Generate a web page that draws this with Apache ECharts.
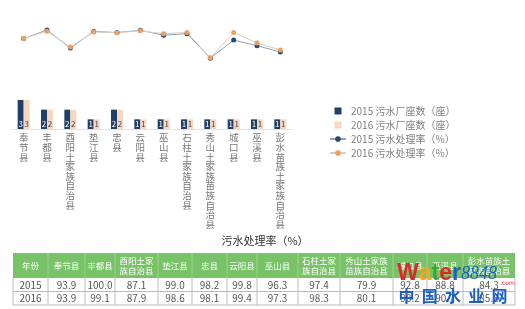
<!DOCTYPE html>
<html>
<head>
<meta charset="utf-8">
<script src="https://cdn.jsdelivr.net/npm/echarts@6/dist/echarts.min.js"></script>
<style>
  html, body { margin: 0; padding: 0; background: #fff; }
  #main { width: 525px; height: 309px; }
</style>
</head>
<body>
<div id="main"></div>
<script>
// 数据
var categories = ['奉节县', '丰都县', '酉阳土家族自治县', '垫江县', '忠县', '云阳县', '巫山县',
  '石柱土家族自治县', '秀山土家族苗族自治县', '城口县', '巫溪县', '彭水苗族土家族自治县'];
var plants2015 = [3, 2, 2, 1, 2, 1, 1, 1, 1, 1, 1, 1];
var plants2016 = [3, 2, 2, 1, 2, 1, 1, 1, 1, 1, 1, 1];
var rate2015 = [93.9, 100.0, 87.1, 99.0, 98.2, 99.8, 96.3, 97.4, 79.9, 92.8, 88.8, 84.3];
var rate2016 = [93.9, 99.1, 87.9, 98.6, 98.1, 99.4, 97.3, 98.3, 80.1, 98.2, 90.7, 85.8];
var tableHeaders = ['年份', '奉节县', '丰都县', '酉阳土家\n族自治县', '垫江县', '忠县', '云阳县', '巫山县',
  '石柱土家\n族自治县', '秀山土家族\n苗族自治县', '城口县', '巫溪县', '彭水苗族土\n家族自治县'];
var years = ['2015', '2016'];

var colWidths = [35, 37, 30, 43, 34, 35, 30, 41, 42, 53, 34, 36, 52];

var FONT = '"Noto Sans CJK SC", "Noto Sans", sans-serif';

// 表格用 graphic 画
function buildTable() {
  var els = [];
  var x0 = 13, y0 = 253, hh = 25, rh = 13.5;
  var totalW = colWidths.reduce(function (a, b) { return a + b; }, 0);
  els.push({ type: 'rect', shape: { x: x0, y: y0, width: totalW, height: hh }, style: { fill: '#78c267' } });
  var rows = [rate2015, rate2016];
  var x = x0;
  for (var c = 0; c < colWidths.length; c++) {
    var w = colWidths[c];
    els.push({ type: 'text', x: x + w / 2, y: y0 + hh / 2,
      style: { text: tableHeaders[c], fill: '#fff', font: '8.5px ' + FONT, align: 'center', verticalAlign: 'middle', lineHeight: 10 } });
    for (var r = 0; r < rows.length; r++) {
      var txt = c === 0 ? years[r] : rows[r][c - 1].toFixed(1);
      els.push({ type: 'text', x: x + w / 2, y: y0 + hh + rh * r + rh / 2,
        style: { text: txt, fill: '#555', font: '10px ' + FONT, align: 'center', verticalAlign: 'middle' } });
    }
    if (c > 0) {
      els.push({ type: 'line', shape: { x1: x, y1: y0, x2: x, y2: y0 + hh }, style: { stroke: '#9fd292', lineWidth: 1 } });
      els.push({ type: 'line', shape: { x1: x, y1: y0 + hh, x2: x, y2: y0 + hh + rh * 2 }, style: { stroke: '#bbb', lineWidth: 1 } });
    }
    x += w;
  }
  // 横线和外框
  [y0 + hh + rh, y0 + hh + rh * 2].forEach(function (yy) {
    els.push({ type: 'line', shape: { x1: x0, y1: yy, x2: x0 + totalW, y2: yy }, style: { stroke: '#bbb', lineWidth: 1 } });
  });
  els.push({ type: 'line', shape: { x1: x0, y1: y0 + hh, x2: x0, y2: y0 + hh + rh * 2 }, style: { stroke: '#bbb', lineWidth: 1 } });
  els.push({ type: 'line', shape: { x1: x0 + totalW, y1: y0 + hh, x2: x0 + totalW, y2: y0 + hh + rh * 2 }, style: { stroke: '#bbb', lineWidth: 1 } });
  return els;
}

var graphics = buildTable();
graphics.push({ type: 'text', x: 265, y: 241,
  style: { text: '污水处理率（%）', fill: '#333', font: '11px ' + FONT, align: 'center', verticalAlign: 'middle' } });
// 水印
graphics.push({ type: 'text', x: 397, y: 274, style: {
  text: '{r|W}{o|a}{g|t}{r|e}{b|r}{n|8848}', verticalAlign: 'middle',
  rich: {
    r: { fill: '#e2262b', font: 'bold 23px "Liberation Sans"' },
    o: { fill: '#f5a623', font: 'bold 23px "Liberation Sans"' },
    g: { fill: '#3aa537', font: 'bold 23px "Liberation Sans"' },
    b: { fill: '#1d5fc4', font: 'bold 23px "Liberation Sans"' },
    n: { fill: '#1d5fc4', font: 'italic 18px "Liberation Serif"' }
  } } });
graphics.push({ type: 'text', x: 500, y: 283, style: { text: '.com', fill: '#e2262b', font: '6px "DejaVu Sans"', verticalAlign: 'middle' } });
graphics.push({ type: 'text', x: 453, y: 296, style: { text: '中  国  水  业  网', fill: '#1d5fc4', font: 'bold 16px ' + FONT, align: 'center', verticalAlign: 'middle' } });

var chart = echarts.init(document.getElementById('main'));
var option = {
  animation: false,
  backgroundColor: '#fff',
  legend: {
    orient: 'vertical',
    left: 324,
    top: 101,
    itemWidth: 16,
    itemHeight: 7,
    itemGap: 4,
    textStyle: { color: '#808080', fontSize: 10, fontFamily: FONT },
    data: [
      { name: '2015 污水厂座数（座）', icon: 'path://M0,0L1,0L1,1L0,1Z' },
      { name: '2016 污水厂座数（座）', icon: 'path://M0,0L1,0L1,1L0,1Z' },
      { name: '2015 污水处理率（%）' },
      { name: '2016 污水处理率（%）' }
    ]
  },
  grid: [
    { left: 12, right: 233, top: 23, height: 49 },
    { left: 12, right: 233, top: 100, height: 29 }
  ],
  xAxis: [
    { type: 'category', gridIndex: 0, data: categories, show: false },
    {
      type: 'category', gridIndex: 1, data: categories,
      axisLine: { lineStyle: { color: '#e3e3e3' } },
      axisTick: { show: false },
      axisLabel: {
        interval: 0, margin: 4, color: '#777', fontSize: 9.5, lineHeight: 9.6, fontFamily: FONT,
        verticalAlign: 'top',
        formatter: function (v) { return v.split('').join('\n'); }
      }
    }
  ],
  yAxis: [
    { type: 'value', gridIndex: 0, min: 70, max: 105, show: false },
    { type: 'value', gridIndex: 1, min: 0, max: 3, show: false }
  ],
  series: [
    {
      name: '2015 污水厂座数（座）', type: 'bar', xAxisIndex: 1, yAxisIndex: 1,
      data: plants2015, barWidth: 6, barGap: '0%',
      itemStyle: { color: '#1f3e6a' },
      label: { show: true, position: 'insideBottom', distance: 1, color: '#fff', fontSize: 8, fontFamily: FONT }
    },
    {
      name: '2016 污水厂座数（座）', type: 'bar', xAxisIndex: 1, yAxisIndex: 1,
      data: plants2016, barWidth: 6,
      itemStyle: { color: '#f8d6c0' },
      label: { show: true, position: 'insideBottom', distance: 1, color: '#444', fontSize: 8, fontFamily: FONT }
    },
    {
      name: '2015 污水处理率（%）', type: 'line', xAxisIndex: 0, yAxisIndex: 0,
      data: rate2015, symbol: 'circle', symbolSize: 5,
      itemStyle: { color: '#2b4a6e' },
      lineStyle: { color: '#8aa2bb', width: 1 }
    },
    {
      name: '2016 污水处理率（%）', type: 'line', xAxisIndex: 0, yAxisIndex: 0,
      data: rate2016, symbol: 'circle', symbolSize: 5,
      itemStyle: { color: '#ee9f5e' },
      lineStyle: { color: '#d9cdc2', width: 1 }
    }
  ],
  graphic: graphics
};
chart.setOption(option);
</script>
</body>
</html>
